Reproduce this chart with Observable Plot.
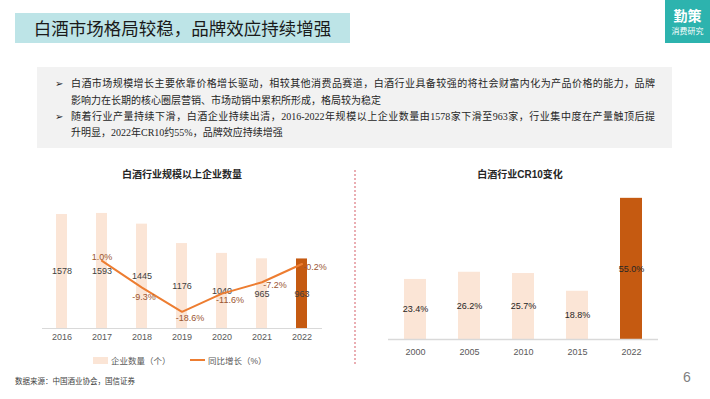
<!DOCTYPE html>
<html><head><meta charset="utf-8">
<script src="https://cdn.jsdelivr.net/npm/d3@7"></script>
<script src="https://cdn.jsdelivr.net/npm/@observablehq/plot@0.6"></script>
<style>
body{margin:0;width:710px;height:399px;position:relative;background:#fff;overflow:hidden;font-family:"Liberation Sans","Noto Sans CJK SC",sans-serif}
.abs{position:absolute}
.ln{position:absolute;left:71px;width:584px;font-family:"Liberation Serif","Noto Sans CJK SC",serif;font-size:10px;line-height:16px;color:#262626;white-space:nowrap}
.just{text-align:justify;text-align-last:justify;white-space:normal;height:16px;overflow:hidden}
.bul{position:absolute;left:55px;font-family:"DejaVu Sans";font-size:10px;line-height:16px;color:#262626}
.ctitle{position:absolute;font-size:10px;font-weight:bold;color:#262626;line-height:14px;white-space:nowrap;transform:translateX(-50%)}
.leg{position:absolute;font-size:8.5px;color:#595959;line-height:12px;white-space:nowrap}
</style></head><body>
<div class="abs" style="left:15px;top:13px;width:335px;height:30px;background:#bde4e7;color:#1a1a1a;font-family:'Noto Sans CJK SC';font-size:17.5px;line-height:30px;text-align:center">白酒市场格局较稳，品牌效应持续增强</div>
<div class="abs" style="left:665px;top:0;width:45px;height:43px;background:#2db3ae;color:#fff;text-align:center;font-family:'Noto Sans CJK SC'">
  <div style="font-size:14px;line-height:16px;margin-top:7px;font-weight:bold">勤策</div>
  <div style="font-size:8px;line-height:10px;margin-top:3px">消费研究</div>
</div>
<div class="abs" style="left:37px;top:67px;width:635px;height:81px;background:#f2f2f2"></div>
<div class="bul" style="top:76px">➢</div>
<div class="ln just" style="top:76px">白酒市场规模增长主要依靠价格增长驱动，相较其他消费品赛道，白酒行业具备较强的将社会财富内化为产品价格的能力，品牌</div>
<div class="ln" style="top:93px">影响力在长期的核心圈层营销、市场动销中累积所形成，格局较为稳定</div>
<div class="bul" style="top:109px">➢</div>
<div class="ln just" style="top:109px">随着行业产量持续下滑，白酒企业持续出清，2016-2022年规模以上企业数量由1578家下滑至963家，行业集中度在产量触顶后提</div>
<div class="ln" style="top:125px">升明显，2022年CR10约55%，品牌效应持续增强</div>

<div class="ctitle" style="left:182px;top:168px">白酒行业规模以上企业数量</div>
<div class="ctitle" style="left:520px;top:168px">白酒行业CR10变化</div>

<div id="left" class="abs" style="left:30px;top:160px"></div>
<div id="leftLine" class="abs" style="left:30px;top:160px"></div>
<div id="right" class="abs" style="left:370px;top:160px"></div>

<svg class="abs" style="left:352px;top:170px" width="6" height="194"><line x1="3" y1="0" x2="3" y2="194" stroke="#e59aa0" stroke-width="1.6" stroke-dasharray="2,2"/></svg>

<div class="abs" style="left:93px;top:357px;width:15px;height:7px;background:#fbe5d6"></div>
<div class="leg" style="left:111px;top:355px">企业数量（个）</div>
<div class="abs" style="left:190px;top:359px;width:15px;height:2px;background:#ed7d31"></div>
<div class="leg" style="left:208px;top:355px">同比增长（%）</div>

<div class="abs" style="left:15px;top:377px;font-family:'Liberation Serif','Noto Sans CJK SC';font-size:7.5px;line-height:10px;color:#404040;white-space:nowrap">数据来源：中国酒业协会，国信证券</div>
<div class="abs" style="left:683px;top:368px;font-size:14px;line-height:18px;color:#7f7f7f">6</div>

<script>
const countYears = ["2016","2017","2018","2019","2020","2021","2022"];
const counts = [1578,1593,1445,1176,1040,965,963];
const growthYears = ["2017","2018","2019","2020","2021","2022"];
const growth = [1.0,-9.3,-18.6,-11.6,-7.2,-0.2];
const cr10Years = ["2000","2005","2010","2015","2022"];
const cr10 = [23.4,26.2,25.7,18.8,55.0];

const LIGHT = "#fbe5d6", DARK = "#c55a11", LINE = "#ed7d31";
const countData = countYears.map((year,i)=>({year, v: counts[i]}));
const growthData = growthYears.map((year,i)=>({year, v: growth[i]}));
const crData = cr10Years.map((year,i)=>({year, v: cr10[i]}));
const font = "Liberation Sans, Noto Sans CJK SC, sans-serif";

const leftDims = {width:310, height:190, marginLeft:12, marginRight:18, marginTop:38, marginBottom:22};
const leftX = {type:"band", domain: countYears, paddingInner:0.72, paddingOuter:0.34};

const left = Plot.plot({
  ...leftDims,
  style:{fontFamily:font, fontSize:"9px", color:"#595959", background:"transparent"},
  x:{...leftX, tickSize:0, tickPadding:5, label:null},
  y:{domain:[0,1800], axis:null},
  color:{type:"identity"},
  marks:[
    Plot.barY(countData, {x:"year", y:"v", fill: d => d.year === "2022" ? DARK : LIGHT}),
    Plot.ruleY([0], {stroke:"#d9d9d9", strokeWidth:1.2}),
    Plot.text(countData, {x:"year", y: d => d.v/2, text: d => String(d.v), fill:"#404040", fontSize:9})
  ]
});
document.getElementById("left").appendChild(left);

const lbl = (years, opts) => Plot.text(growthData.filter(d => years.includes(d.year)),
  {x:"year", y:"v", text: d => d.v.toFixed(1)+"%", fill:"#9a5530", fontSize:9, ...opts});

const leftLine = Plot.plot({
  ...leftDims,
  style:{fontFamily:font, background:"transparent"},
  x:{...leftX, axis:null},
  y:{domain:[-25,25], axis:null},
  marks:[
    Plot.line(growthData, {x:"year", y:"v", stroke:LINE, strokeWidth:2}),
    lbl(["2017"], {dy:-4}),
    lbl(["2018"], {dx:2, dy:9}),
    lbl(["2019","2020"], {dx:8, dy:6}),
    lbl(["2021","2022"], {dx:13, dy:3})
  ]
});
document.getElementById("leftLine").appendChild(leftLine);

const right = Plot.plot({
  width:310, height:200, marginLeft:18, marginRight:22, marginTop:25, marginBottom:21,
  style:{fontFamily:font, fontSize:"9px", color:"#595959", background:"transparent"},
  x:{type:"band", domain: cr10Years, paddingInner:0.594, paddingOuter:0.285, tickSize:0, tickPadding:9, label:null},
  y:{domain:[0,60], axis:null},
  color:{type:"identity"},
  marks:[
    Plot.barY(crData, {x:"year", y:"v", fill: d => d.year === "2022" ? DARK : LIGHT}),
    Plot.ruleY([0], {stroke:"#d9d9d9", strokeWidth:1.5}),
    Plot.text(crData, {x:"year", y: d => d.v/2, text: d => d.v.toFixed(1)+"%", fill:"#262626", fontSize:9})
  ]
});
document.getElementById("right").appendChild(right);
</script>
</body></html>
